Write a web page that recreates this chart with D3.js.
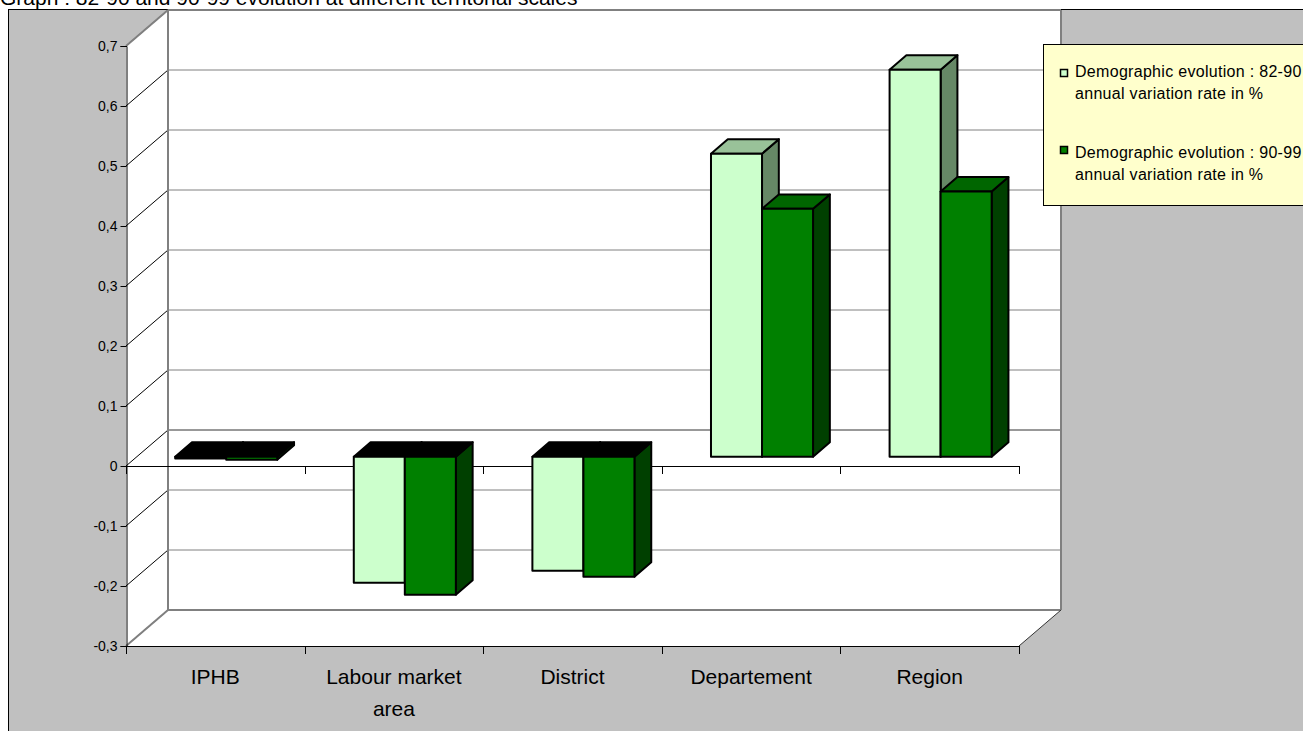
<!DOCTYPE html>
<html>
<head>
<meta charset="utf-8">
<script src="https://cdn.jsdelivr.net/npm/d3@7"></script>
<style>
  html, body { margin: 0; padding: 0; background: #ffffff; overflow: hidden; }
  svg { display: block; font-family: "Liberation Sans", Arial, sans-serif; }
</style>
</head>
<body>
<svg id="chart" width="1303" height="731"></svg>
<script>
// ---- data ----
const title = "Graph : 82-90 and 90-99 evolution at different territorial scales";
const categories = ["IPHB", "Labour market area", "District", "Departement", "Region"];
const evolution82_90 = [-0.003, -0.21, -0.19, 0.505, 0.645];
const evolution90_99 = [-0.005, -0.23, -0.20, 0.413, 0.442];
const seriesKeys = ["s82_90", "s90_99"];
const legendLines82_90 = ["Demographic evolution : 82-90", "annual variation rate in %"];
const legendLines90_99 = ["Demographic evolution : 90-99", "annual variation rate in %"];
const yTickValues = [-0.3, -0.2, -0.1, 0, 0.1, 0.2, 0.3, 0.4, 0.5, 0.6, 0.7];

// ---- styles ----
const faceColors = {
  s82_90: { front: "#CCFFCC", top: "#99C299", side: "#668866" },
  s90_99: { front: "#008000", top: "#006600", side: "#004000" }
};

const svg = d3.select("#chart");
const DX = 42, DY = 36;          // full depth offset of the 3D box
const F0 = 0.26, F1 = 0.66;      // bar depth fraction (front/back)

const x = d3.scaleBand().domain(categories).range([126, 1019]).padding(0);
const xs = d3.scaleBand().domain(seriesKeys).range([0, x.bandwidth()]).paddingInner(0).paddingOuter(0.75);
const y = d3.scaleLinear().domain([-0.3, 0.7]).range([646, 46]);
const P = (px, v, f) => [px + DX * f, y(v) - DY * f];
const line = d3.line();

const locale = d3.formatLocale({ decimal: ",", thousands: " ", grouping: [3], currency: ["", ""], minus: "-" });
const fmt = v => (v === 0 ? "0" : locale.format(".1f")(v));

// title (behind chart area)
svg.append("text").attr("x", 0).attr("y", 5).attr("font-size", 21).attr("fill", "#000").text(title);

// chart area
svg.append("rect").attr("x", 8.5).attr("y", 9.5).attr("width", 1400).attr("height", 800)
  .attr("fill", "#C0C0C0").attr("stroke", "#000").attr("stroke-width", 1);

const x0 = 126, x1 = 1019;
const vmin = -0.3, vmax = 0.7;
// walls
const sideWall = [P(x0, vmax, 0), P(x0, vmax, 1), P(x0, vmin, 1), P(x0, vmin, 0)];
const backWall = [P(x0, vmax, 1), P(x1, vmax, 1), P(x1, vmin, 1), P(x0, vmin, 1)];
const floor = [P(x0, vmin, 0), P(x0, vmin, 1), P(x1, vmin, 1), P(x1, vmin, 0)];
[sideWall, backWall, floor].forEach(pts => {
  svg.append("path").attr("d", line(pts) + "Z").attr("fill", "#fff").attr("stroke", "none");
});

// gridlines
yTickValues.forEach(v => {
  if (v > vmin && v < vmax) {
    svg.append("path").attr("d", line([P(x0, v, 1), P(x1, v, 1)]))
      .attr("stroke", v === 0 ? "#333" : "#808080").attr("stroke-width", 1).attr("fill", "none");
  }
  svg.append("path").attr("d", line([P(x0, v, 0), P(x0, v, 1)]))
    .attr("stroke", "#000").attr("stroke-width", 1).attr("fill", "none");
});

// wall borders (gray)
const gray = "#808080";
[[P(x0, vmax, 0), P(x0, vmax, 1)], [P(x0, vmax, 1), P(x0, vmin, 1)], [P(x0, vmin, 1), P(x1, vmin, 1)],
 [P(x1, vmin, 1), P(x1, vmax, 1)], [P(x0, vmin, 0), P(x0, vmin, 1)], [P(x0, vmax, 1), P(x1, vmax, 1)]].forEach(seg => {
  svg.append("path").attr("d", line(seg)).attr("stroke", gray).attr("stroke-width", 2).attr("fill", "none");
});
svg.append("path").attr("d", line([P(x1, vmin, 0), P(x1, vmin, 1)])).attr("stroke", "#333").attr("stroke-width", 1).attr("fill", "none");

// category axis lines at zero and at floor
const boundaries = categories.map(c => x(c)).concat([x1]);
[0, vmin].forEach(v => {
  svg.append("line").attr("x1", x0).attr("x2", x1).attr("y1", y(v) + 0.5).attr("y2", y(v) + 0.5)
    .attr("stroke", "#000").attr("stroke-width", 1);
  boundaries.forEach(b => {
    svg.append("line").attr("x1", Math.round(b) + 0.5).attr("x2", Math.round(b) + 0.5)
      .attr("y1", y(v)).attr("y2", y(v) + 8).attr("stroke", "#000").attr("stroke-width", 1);
  });
});

// value axis
const yAxis = d3.axisLeft(y).tickValues(yTickValues).tickFormat(fmt).tickSize(6).tickPadding(3);
const gy = svg.append("g").attr("transform", `translate(${x0 + 0.5},0)`).call(yAxis);
gy.select(".domain").attr("stroke", "#000");
gy.selectAll(".tick line").attr("stroke", "#000");
gy.selectAll(".tick text").attr("font-size", 14).attr("fill", "#000")
  .attr("font-family", "'Liberation Sans', Arial, sans-serif");

// bars
const data = categories.map((c, i) => ({ cat: c, s82_90: evolution82_90[i], s90_99: evolution90_99[i] }));
data.forEach(d => {
  seriesKeys.forEach(k => {
    const v = d[k];
    const bx0 = x(d.cat) + xs(k);
    const bx1 = bx0 + xs.bandwidth();
    const top = Math.max(0, v), bot = Math.min(0, v);
    const col = faceColors[k];
    const g = svg.append("g").attr("stroke", "#000").attr("stroke-width", 2).attr("stroke-linejoin", "round");
    g.append("path").attr("d", line([P(bx1, top, F0), P(bx1, top, F1), P(bx1, bot, F1), P(bx1, bot, F0)]) + "Z")
      .attr("fill", col.side);
    g.append("path").attr("d", line([P(bx0, top, F0), P(bx1, top, F0), P(bx1, top, F1), P(bx0, top, F1)]) + "Z")
      .attr("fill", v < 0 ? "#000" : col.top);
    g.append("path").attr("d", line([P(bx0, top, F0), P(bx1, top, F0), P(bx1, bot, F0), P(bx0, bot, F0)]) + "Z")
      .attr("fill", col.front);
  });
});

// category labels with wrapping
categories.forEach(c => {
  const cx = x(c) + x.bandwidth() / 2;
  const t = svg.append("text").attr("x", cx).attr("y", 684).attr("text-anchor", "middle")
    .attr("font-size", 21).attr("fill", "#000");
  const words = c.split(" ");
  let lineWords = [], lines = [];
  const probe = svg.append("text").attr("font-size", 21).attr("visibility", "hidden");
  words.forEach(w => {
    const test = lineWords.concat([w]).join(" ");
    probe.text(test);
    if (probe.node().getComputedTextLength() > 165 && lineWords.length) {
      lines.push(lineWords.join(" "));
      lineWords = [w];
    } else {
      lineWords.push(w);
    }
  });
  lines.push(lineWords.join(" "));
  probe.remove();
  lines.forEach((l, i) => {
    t.append("tspan").attr("x", cx).attr("y", 684 + i * 32).text(l);
  });
});

// legend
const lg = svg.append("g");
lg.append("rect").attr("x", 1043.5).attr("y", 44.5).attr("width", 300).attr("height", 161)
  .attr("fill", "#FFFFCC").attr("stroke", "#000").attr("stroke-width", 1);
const legendItems = [
  { key: "s82_90", lines: legendLines82_90, my: 69, ty: 77 },
  { key: "s90_99", lines: legendLines90_99, my: 146, ty: 158 }
];
legendItems.forEach(it => {
  lg.append("rect").attr("x", 1060.5).attr("y", it.my + 0.5).attr("width", 7).attr("height", 7)
    .attr("fill", faceColors[it.key].front).attr("stroke", "#000").attr("stroke-width", 1.5);
  const t = lg.append("text").attr("font-size", 16).attr("fill", "#000").attr("letter-spacing", 0.3);
  it.lines.forEach((l, i) => {
    t.append("tspan").attr("x", 1075).attr("y", it.ty + i * 21.5).text(l);
  });
});
</script>
</body>
</html>
